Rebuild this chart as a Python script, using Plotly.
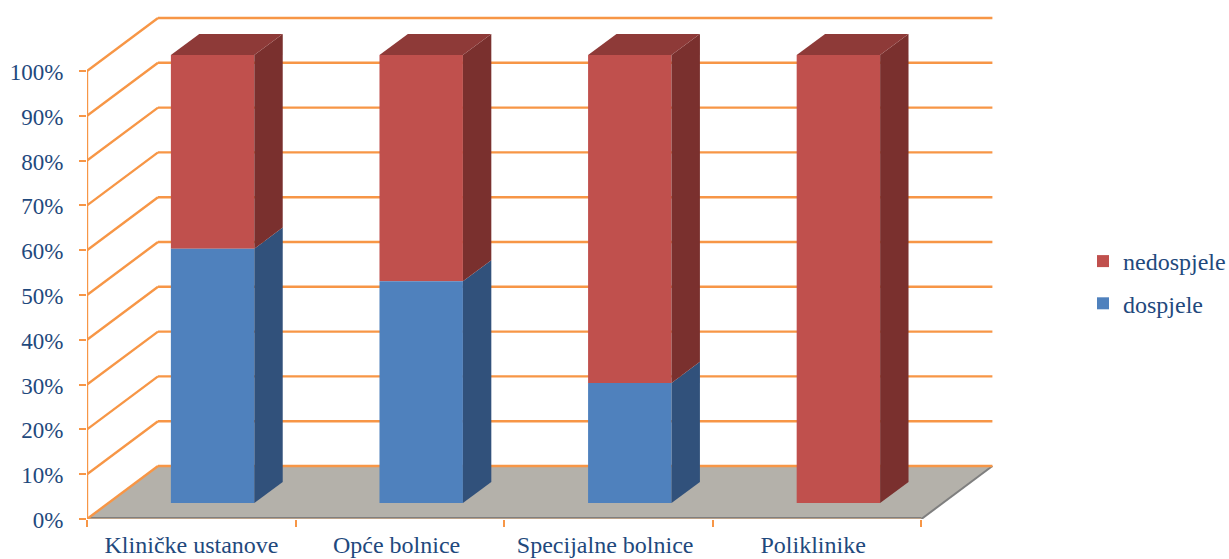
import plotly.graph_objects as go

categories = ["Kliničke ustanove", "Opće bolnice", "Specijalne bolnice", "Poliklinike"]
dospjele = [56.8, 49.5, 26.8, 0.0]
nedospjele = [43.2, 50.5, 73.2, 100.0]
y_ticks = [0, 10, 20, 30, 40, 50, 60, 70, 80, 90, 100]
label_pos = [0.501, 1.484, 2.484, 3.481]

# Pseudo-3D projection: a step of one full depth moves a point right and up
PX_X = 208.6
PX_Y = 4.48
DEPTH_X = 71 / PX_X
DEPTH_Y = 53 / PX_Y
BAR_W = 0.4
D0, D1 = 0.3, 0.7
N = len(categories)
X_MAX = (998 - 87) / PX_X
Y_MAX = (519 - 12) / PX_Y


def P(x, y, d):
    return x + d * DEPTH_X, y + d * DEPTH_Y


def face(pts):
    return [p[0] for p in pts] + [pts[0][0]], [p[1] for p in pts] + [pts[0][1]]


ORANGE = "#F79646"
EDGE = "#7F7F7F"
TEXT = "#1F497D"
FONT = "Liberation Serif"
LINE_W = 2.4
shapes = []


def poly(pts, fill):
    xs, ys = face(pts)
    path = "M" + "L".join(f"{a},{b}" for a, b in zip(xs[:-1], ys[:-1])) + "Z"
    shapes.append(dict(type="path", path=path, fillcolor=fill, layer="below",
                       xref="x", yref="y", line=dict(color=fill, width=0)))


def seg(a, b, color=ORANGE, width=LINE_W):
    shapes.append(dict(type="line", x0=a[0], y0=a[1], x1=b[0], y1=b[1], layer="below",
                       xref="x", yref="y", line=dict(color=color, width=width)))


# floor
poly([P(0, 0, 0), P(0, 0, 1), P(N, 0, 1), P(N, 0, 0)], "#B4B1AA")
seg(P(N, 0, 0), P(N, 0, 1), EDGE, 2)
seg(P(0, 0.3, 0), P(N, 0.3, 0), EDGE, 1.2)
# gridlines on side wall and back wall
for t in y_ticks:
    seg(P(0, t, 0), P(0, t, 1))
    seg(P(0, t, 1), P(N, t, 1))

fig = go.Figure()
centers = [i + 0.5 for i in range(N)]
front_x = [c + D0 * DEPTH_X for c in centers]
floor_y = D0 * DEPTH_Y

fig.add_trace(go.Bar(name="nedospjele", x=front_x, y=nedospjele,
                     base=[floor_y + v for v in dospjele], width=BAR_W,
                     marker=dict(color="#C0504D", line=dict(width=0)),
                     legendgroup="n"))
fig.add_trace(go.Bar(name="dospjele", x=front_x, y=dospjele,
                     base=[floor_y] * N, width=BAR_W,
                     marker=dict(color="#4F81BD", line=dict(width=0)),
                     legendgroup="d"))


def add_face(pts, color):
    xs, ys = face(pts)
    fig.add_trace(go.Scatter(x=xs, y=ys, mode="lines", fill="toself", fillcolor=color,
                             line=dict(width=0, color=color), showlegend=False,
                             hoverinfo="skip"))


for i, (lo, hi) in enumerate(zip(dospjele, nedospjele)):
    x0, x1 = i + 0.5 - BAR_W / 2, i + 0.5 + BAR_W / 2
    if lo > 0:
        add_face([P(x1, 0, D0), P(x1, 0, D1), P(x1, lo, D1), P(x1, lo, D0)], "#31517B")
    if hi > 0:
        add_face([P(x1, lo, D0), P(x1, lo, D1), P(x1, lo + hi, D1), P(x1, lo + hi, D0)], "#7A302E")
    top = lo + hi
    add_face([P(x0, top, D0), P(x0, top, D1), P(x1, top, D1), P(x1, top, D0)], "#8E3A38")

# axis lines, unclipped so they sit fully visible on the plot edge
fig.add_trace(go.Scatter(x=[0, 0, N], y=[100, -0.2, -0.2], mode="lines", cliponaxis=False,
                         line=dict(color=ORANGE, width=LINE_W), showlegend=False,
                         hoverinfo="skip"))

fig.update_layout(
    width=1229, height=559,
    margin=dict(l=87, r=231, t=12, b=40, autoexpand=False),
    paper_bgcolor="white", plot_bgcolor="white",
    barmode="overlay", shapes=shapes,
    font=dict(family=FONT, size=23, color=TEXT),
    legend=dict(x=(1092 - 87) / 911, xanchor="left", y=(519 - 282.5) / 507, yanchor="middle",
                tracegroupgap=8, traceorder="grouped", indentation=-9, font=dict(size=24),
                bgcolor="rgba(0,0,0,0)"),
    xaxis=dict(range=[0, X_MAX], tickmode="array", tickvals=label_pos, ticktext=categories,
               ticks="", showgrid=False, zeroline=False, showline=False,
               tickfont=dict(size=24), ticklabelstandoff=9, fixedrange=True,
               minor=dict(tickmode="array", tickvals=list(range(N + 1)), ticks="outside",
                          ticklen=7, tickwidth=LINE_W, tickcolor=ORANGE, showgrid=False)),
    yaxis=dict(range=[0, Y_MAX], tickmode="array", tickvals=y_ticks,
               ticktext=[f"{t}%" for t in y_ticks], ticks="outside", ticklen=7,
               tickwidth=LINE_W, tickcolor=ORANGE, showgrid=False, zeroline=False,
               showline=False, ticklabelstandoff=11, ticklabelshift=1, fixedrange=True),
)

fig.write_html("out.html", post_script="document.body.style.margin='0';",
               config={"displayModeBar": False})
